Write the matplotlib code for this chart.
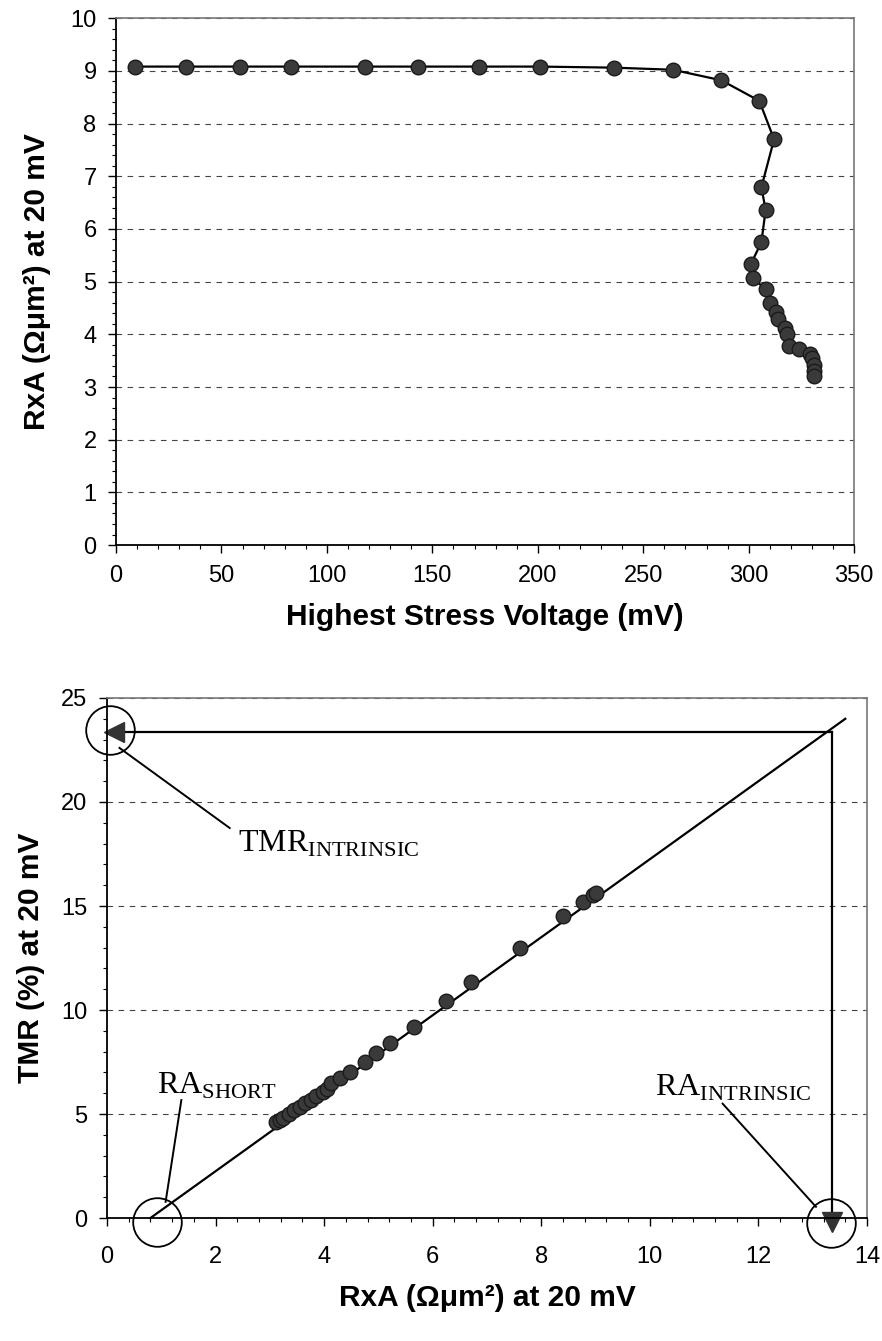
import matplotlib
matplotlib.use('Agg')
import matplotlib.pyplot as plt
from matplotlib.ticker import MultipleLocator

plt.rcParams['font.family'] = ['Liberation Sans', 'DejaVu Sans']
plt.rcParams['mathtext.fontset'] = 'custom'
plt.rcParams['mathtext.rm'] = 'Liberation Serif'

# top chart: RxA vs highest stress voltage
stress_mv = [9, 33, 59, 83, 118, 143, 172, 201, 236, 264, 287, 305, 312,
             306, 308, 306, 301, 302, 308, 310, 313, 314, 317, 318, 319,
             324, 329, 330, 331, 331, 331]
ra_top = [9.08, 9.08, 9.08, 9.08, 9.08, 9.08, 9.08, 9.08, 9.06, 9.02, 8.82,
          8.43, 7.70, 6.79, 6.36, 5.75, 5.33, 5.06, 4.86, 4.59, 4.43, 4.30,
          4.12, 4.01, 3.78, 3.72, 3.63, 3.55, 3.42, 3.30, 3.20]

# bottom chart: TMR vs RxA
ra_bot = [3.12, 3.18, 3.25, 3.35, 3.45, 3.55, 3.65, 3.75, 3.85, 3.97, 4.05,
          4.13, 4.29, 4.47, 4.76, 4.96, 5.21, 5.65, 6.25, 6.70, 7.61, 8.40,
          8.77, 8.95, 9.01]
tmr_bot = [4.63, 4.72, 4.82, 5.00, 5.18, 5.35, 5.52, 5.68, 5.85, 6.05, 6.22,
           6.47, 6.75, 7.03, 7.52, 7.92, 8.40, 9.20, 10.43, 11.36, 12.97,
           14.52, 15.21, 15.55, 15.61]
fit_x = [0.8, 13.6]
fit_y = [0.0, 24.0]
ra_short = 0.92
ra_intrinsic = 13.35
tmr_intrinsic = 23.35

fig = plt.figure(figsize=(8.82, 13.41), dpi=100)
ax1 = fig.add_axes([0.1315, 0.5935, 0.837, 0.393])
ax2 = fig.add_axes([0.1213, 0.0917, 0.8617, 0.3878])

grid_kw = dict(color='#444444', lw=0.8, ls=(0, (5, 5)))

for ax in (ax1, ax2):
    ax.yaxis.grid(True, **grid_kw)
    ax.set_axisbelow(True)
    for s in ('top', 'right'):
        ax.spines[s].set_color('#777777')
        ax.spines[s].set_linewidth(1.2)
    for s in ('left', 'bottom'):
        ax.spines[s].set_color('black')
        ax.spines[s].set_linewidth(1.3)
    ax.tick_params(which='major', length=6, width=1, labelsize=17, pad=8)
    ax.tick_params(which='minor', length=3, width=0.8)

# top
ax1.plot(stress_mv, ra_top, color='black', lw=1.6, marker='o', ms=10.5,
         mfc='#3a3a3a', mec='#1a1a1a', mew=1)
ax1.set_xlim(0, 350)
ax1.set_ylim(0, 10)
ax1.xaxis.set_major_locator(MultipleLocator(50))
ax1.xaxis.set_minor_locator(MultipleLocator(10))
ax1.yaxis.set_major_locator(MultipleLocator(1))
ax1.yaxis.set_minor_locator(MultipleLocator(0.2))
ax1.set_xlabel('Highest Stress Voltage (mV)', fontsize=21.5, fontweight='bold', labelpad=12)
ax1.set_ylabel('RxA (Ωμm²) at 20 mV', fontsize=21.5, fontweight='bold', labelpad=14)

# bottom
ax2.plot(fit_x, fit_y, color='black', lw=1.6, clip_on=False)
ax2.plot(ra_bot, tmr_bot, ls='none', marker='o', ms=10.5,
         mfc='#3a3a3a', mec='#1a1a1a', mew=1)
ax2.plot([ra_intrinsic, 0.2], [tmr_intrinsic, tmr_intrinsic], color='black', lw=1.6)
ax2.plot([ra_intrinsic, ra_intrinsic], [tmr_intrinsic, 0], color='black', lw=1.6)
ax2.plot([0.12], [tmr_intrinsic], marker='<', ms=14, color='#333333', clip_on=False)
ax2.plot([ra_intrinsic], [-0.2], marker='v', ms=14, color='#333333', clip_on=False)

circ = dict(ls='none', marker='o', ms=35, mfc='none', mec='black', mew=1.3, clip_on=False)
ax2.plot([0.05], [23.46], **circ)
ax2.plot([ra_short], [-0.18], **circ)
ax2.plot([13.34], [-0.25], **circ)

ax2.plot([0.23, 2.26], [22.6, 18.75], color='black', lw=1.4)
ax2.text(2.41, 17.6, r'$\mathrm{TMR}_{\mathrm{INTRINSIC}}$', fontsize=23, ha='left', va='baseline')
ax2.plot([1.37, 1.08], [5.67, 0.78], color='black', lw=1.4)
ax2.text(0.93, 6.0, r'$\mathrm{RA}_{\mathrm{SHORT}}$', fontsize=23, ha='left', va='baseline')
ax2.plot([11.34, 13.06], [5.5, 0.54], color='black', lw=1.4)
ax2.text(12.98, 5.9, r'$\mathrm{RA}_{\mathrm{INTRINSIC}}$', fontsize=23, ha='right', va='baseline')

ax2.set_xlim(0, 14)
ax2.set_ylim(0, 25)
ax2.xaxis.set_major_locator(MultipleLocator(2))
ax2.xaxis.set_minor_locator(MultipleLocator(0.4))
ax2.yaxis.set_major_locator(MultipleLocator(5))
ax2.yaxis.set_minor_locator(MultipleLocator(1))
ax2.tick_params(axis='x', which='major', pad=14)
ax2.set_xlabel('RxA (Ωμm²) at 20 mV', fontsize=21.5, fontweight='bold', labelpad=12)
ax2.set_ylabel('TMR (%) at 20 mV', fontsize=21.5, fontweight='bold', labelpad=12)

fig.savefig('out.png', dpi=100)
